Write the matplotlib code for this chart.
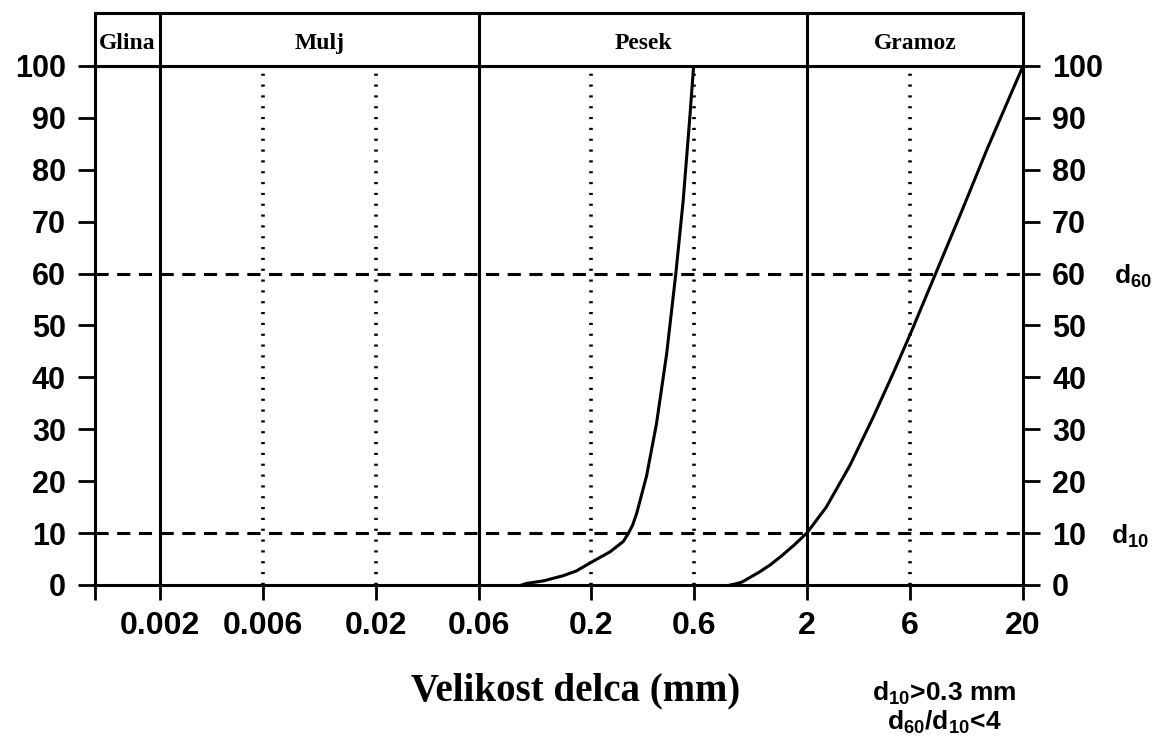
import matplotlib
matplotlib.use("Agg")
import matplotlib.pyplot as plt
import numpy as np

plt.rcParams["mathtext.fontset"] = "custom"
plt.rcParams["mathtext.rm"] = "Liberation Sans:bold"
plt.rcParams["mathtext.bf"] = "Liberation Sans:bold"

# grain size distribution curves
c1_x = [0.095, 0.10, 0.12, 0.148, 0.17, 0.20, 0.244, 0.281, 0.296, 0.31, 0.324,
        0.36, 0.40, 0.446, 0.492, 0.532, 0.571, 0.595]
c1_y = [0.0, 0.3, 0.8, 1.8, 2.7, 4.4, 6.4, 8.4, 9.9, 11.5, 13.8,
        21, 31, 44.5, 60, 74, 90, 100]
c2_x = [0.88, 0.95, 1.0, 1.2, 1.35, 1.54, 1.75, 2.0, 2.45, 3.15, 4.05, 5.03, 6.0, 7.87, 10.3, 13.7, 20]
c2_y = [0.0, 0.3, 0.6, 2.5, 3.9, 5.8, 7.8, 10.1, 15, 23, 32.4, 41, 48.3, 60, 71.6, 84.2, 100]

x_ticks = [0.001, 0.002, 0.006, 0.02, 0.06, 0.2, 0.6, 2, 6, 20]
x_labels = ["", "0.002", "0.006", "0.02", "0.06", "0.2", "0.6", "2", "6", "20"]
y_ticks = [0, 10, 20, 30, 40, 50, 60, 70, 80, 90, 100]
class_bounds = [0.001, 0.002, 0.06, 2, 20]
class_names = ["Glina", "Mulj", "Pesek", "Gramoz"]
dotted_x = [0.006, 0.02, 0.2, 0.6, 6]
dashed_y = [10, 60]

SANS = "Liberation Sans"
SERIF = "Liberation Serif"
LW = 2.2

fig = plt.figure(figsize=(11.55, 7.44), dpi=100)
ax = fig.add_axes([95 / 1155, 1 - 585 / 744, 928 / 1155, 519 / 744])
hx = fig.add_axes([95 / 1155, 1 - 66 / 744, 928 / 1155, 53 / 744], sharex=ax)

ax.set_xscale("log")
ax.set_xlim(0.001, 20)
ax.set_ylim(0, 100)

# class boundaries and helper lines
for b in class_bounds[1:-1]:
    ax.axvline(b, color="black", lw=LW)
    hx.axvline(b, color="black", lw=LW)
for d in dotted_x:
    ax.axvline(d, color="black", lw=2.6, linestyle=(0, (0.6, 2.4)))
for h in dashed_y:
    ax.axhline(h, color="black", lw=2.2, linestyle=(0, (4.3, 2.8)))

ax.plot(c1_x, c1_y, color="black", lw=2.2, solid_joinstyle="round")
ax.plot(c2_x, c2_y, color="black", lw=2.2, solid_joinstyle="round")

for s in ax.spines.values():
    s.set_linewidth(LW)
ax.set_xticks(x_ticks)
ax.set_xticklabels(x_labels, fontfamily=SANS, fontweight="bold", fontsize=23)
ax.xaxis.set_minor_locator(matplotlib.ticker.NullLocator())
ax.set_yticks(y_ticks)
ax.set_yticklabels([str(v) for v in y_ticks], fontfamily=SANS, fontweight="bold", fontsize=22)
ax.tick_params(axis="x", direction="out", length=11, width=2, pad=8)
ax.tick_params(axis="y", direction="out", length=12, width=2, pad=9,
               left=True, right=True, labelleft=True, labelright=True)
for t in ax.yaxis.get_major_ticks():
    t.label2.set_fontfamily(SANS)
    t.label2.set_fontweight("bold")
    t.label2.set_fontsize(22)

ax.set_xlabel("Velikost delca (mm)", fontfamily=SERIF, fontweight="bold", fontsize=28)
ax.xaxis.set_label_coords((576 - 95) / 928, -(691 - 585) / 519)
ax.xaxis.label.set_va("center")

# header with soil classes
hx.set_ylim(0, 1)
hx.set_yticks([])
hx.tick_params(axis="x", which="both", bottom=False, labelbottom=False)
for s in hx.spines.values():
    s.set_linewidth(LW)
for i, name in enumerate(class_names):
    xc = np.sqrt(class_bounds[i] * class_bounds[i + 1])
    hx.text(xc, 0.42, name, ha="center", va="center", fontfamily=SERIF,
            fontweight="bold", fontsize=17)

# annotations on the right
fig.text(1114 / 1155, 1 - 276 / 744, r"d$_{60}$", fontfamily=SANS, fontweight="bold",
         fontsize=19, va="center", ha="left")
fig.text(1111 / 1155, 1 - 536 / 744, r"d$_{10}$", fontfamily=SANS, fontweight="bold",
         fontsize=19, va="center", ha="left")
fig.text(944 / 1155, 1 - 693 / 744, r"d$_{10}$>0.3 mm", fontfamily=SANS,
         fontweight="bold", fontsize=19, ha="center", va="center")
fig.text(944 / 1155, 1 - 722 / 744, r"d$_{60}$/d$_{10}$<4", fontfamily=SANS,
         fontweight="bold", fontsize=19, ha="center", va="center")

fig.savefig("out.png", dpi=100, facecolor="white")
